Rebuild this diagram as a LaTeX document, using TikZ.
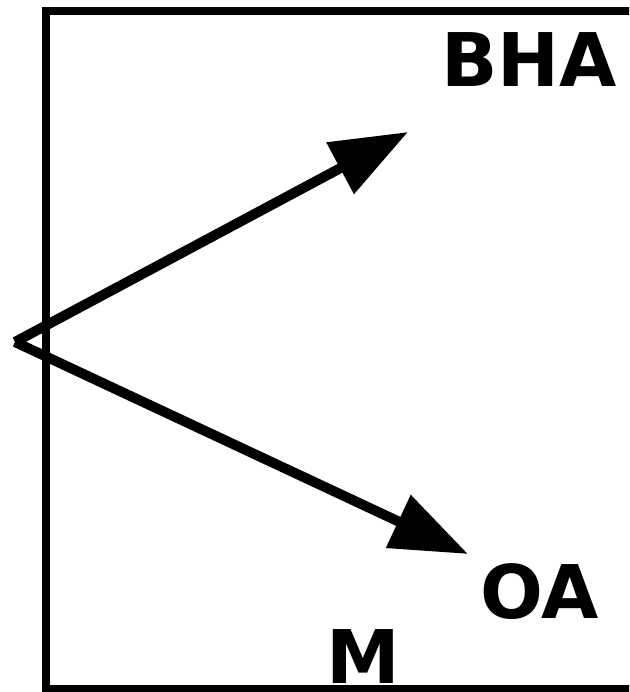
\documentclass[tikz,border=0pt]{standalone}
\usepackage{fontspec}
\setmainfont{DejaVu Sans}
\usetikzlibrary{arrows.meta,positioning}

\begin{document}
\begin{tikzpicture}[
        x=1pt, y=-1pt,
        frame/.style={line width=8pt},
        vec/.style={line width=10pt, -{Triangle[length=77pt, width=56pt]}},
        lbl/.style={font=\fontsize{74}{74}\selectfont\bfseries, inner sep=0pt, anchor=base}
    ]

% --- Canvas ---
        \useasboundingbox (0,0) rectangle (629,692);
        \clip (0,0) rectangle (629,692);

% --- Open frame (right side out of view) ---
        \draw[frame] (700,11) -- (46,11) -- (46,689) -- (700,689);

% --- Labels ---
        \node[lbl] (bha) at (529,87) {BHA};
        \node[lbl] (oa)  at (540,618) {OA};
        \node[lbl] (m)   at (363,683) {M};

% --- Vectors ---
        \coordinate (o)   at (15,342);
        \coordinate (tb)  at (408,132);
        \coordinate (toa) at (468,554);
        \draw[vec] (o) -- (tb);
        \draw[vec] (o) -- (toa);

    \end{tikzpicture}
\end{document}
